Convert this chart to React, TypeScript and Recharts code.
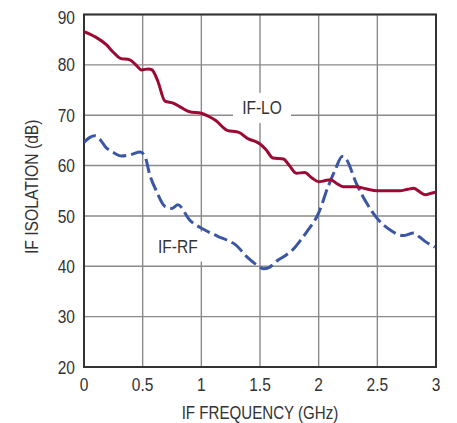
import React from "react";
import { LineChart, Line, XAxis, YAxis, CartesianGrid, ReferenceArea, ReferenceDot } from "recharts";

const xTicks = [0, 0.5, 1, 1.5, 2, 2.5, 3];
const yTicks = [20, 30, 40, 50, 60, 70, 80, 90];
const xTitle = "IF FREQUENCY (GHz)";
const yTitle = "IF ISOLATION (dB)";

const loFreq = [0, 0.1, 0.19, 0.25, 0.31, 0.39, 0.45, 0.49, 0.55, 0.58, 0.63, 0.69, 0.76, 0.83, 0.9, 1.0, 1.06, 1.12, 1.22, 1.32, 1.4, 1.46, 1.5, 1.55, 1.61, 1.7, 1.75, 1.81, 1.88, 1.94, 2.0, 2.05, 2.1, 2.15, 2.21, 2.32, 2.4, 2.5, 2.6, 2.69, 2.76, 2.81, 2.86, 2.91, 2.96, 3.0];
const loVals = [86.6, 85.5, 84.0, 82.5, 81.3, 81.0, 79.8, 79.0, 79.2, 79.0, 76.7, 72.8, 72.4, 71.5, 70.7, 70.4, 69.8, 69.0, 67.0, 66.6, 65.3, 64.8, 64.3, 63.2, 61.5, 61.3, 60.0, 58.5, 58.6, 57.6, 56.8, 57.0, 57.2, 56.5, 55.8, 55.8, 55.4, 55.0, 55.0, 55.0, 55.3, 55.5, 54.8, 54.2, 54.5, 54.7];

const rfFreq = [0, 0.05, 0.094, 0.14, 0.18, 0.25, 0.32, 0.4, 0.48, 0.52, 0.56, 0.62, 0.69, 0.75, 0.8, 0.9, 1.03, 1.145, 1.22, 1.29, 1.4, 1.49, 1.53, 1.58, 1.64, 1.72, 1.78, 1.85, 1.9, 2.0, 2.08, 2.14, 2.2, 2.22, 2.24, 2.32, 2.41, 2.51, 2.61, 2.72, 2.81, 2.86, 2.91, 2.99];
const rfVals = [64.6, 65.6, 65.9, 65.1, 63.8, 62.6, 61.9, 62.2, 62.7, 61.8, 58.2, 54.8, 51.9, 51.5, 52.2, 49.2, 47.2, 45.9, 45.2, 44.3, 41.6, 40.0, 39.5, 39.8, 41.0, 42.2, 43.3, 45.3, 46.9, 50.6, 55.8, 59.1, 61.8, 61.7, 61.1, 56.5, 52.5, 49.2, 47.2, 46.1, 46.6, 45.8, 44.9, 43.8];

const loData = loFreq.map((f, i) => ({ f, v: loVals[i] }));
const rfData = rfFreq.map((f, i) => ({ f, v: rfVals[i] }));

const labelLO = { text: "IF-LO", f: 1.517, v: 71.45, w: 58, h: 30 };
const labelRF = { text: "IF-RF", f: 0.8, v: 43.9, w: 50, h: 30 };

const FONT = "'Liberation Sans', Arial, sans-serif";
const TEXT = "#333";
const FS = 18.5;
const SX = 0.84;

const XTick = (props: any) => {
  const { x, y, payload } = props;
  return (
    <g transform={`translate(${x},${y})`}>
      <text transform={`scale(${SX},1)`} textAnchor="middle" dy="0.71em" fontSize={FS} fontFamily={FONT} fill={TEXT}>
        {payload.value}
      </text>
    </g>
  );
};

const YTick = (props: any) => {
  const { x, y, payload } = props;
  return (
    <g transform={`translate(${x},${y})`}>
      <text transform={`scale(${SX},1)`} textAnchor="end" dy="0.355em" fontSize={FS} fontFamily={FONT} fill={TEXT}>
        {payload.value}
      </text>
    </g>
  );
};

const XTitle = (props: any) => {
  const vb = props.viewBox || {};
  const cx = vb.x + vb.width / 2;
  return (
    <g transform={`translate(${cx},${vb.y + 52})`}>
      <text transform={`scale(${SX},1)`} textAnchor="middle" fontSize={18} fontFamily={FONT} fill={TEXT}>
        {xTitle}
      </text>
    </g>
  );
};

const YTitle = (props: any) => {
  const vb = props.viewBox || {};
  const cy = vb.y + vb.height / 2 - 4;
  return (
    <g transform={`translate(${vb.x + 29.5},${cy}) rotate(-90)`}>
      <text transform={`scale(0.87,1)`} textAnchor="middle" fontSize={18} fontFamily={FONT} fill={TEXT}>
        {yTitle}
      </text>
    </g>
  );
};

const makeLabel = (lab: { text: string; w: number; h: number }) => (props: any) => {
  const { cx, cy } = props;
  return (
    <g>
      <rect x={cx - lab.w / 2} y={cy - lab.h / 2} width={lab.w} height={lab.h} fill="#fff" />
      <g transform={`translate(${cx},${cy + 6.5})`}>
        <text transform={`scale(${SX},1)`} textAnchor="middle" fontSize={FS} fontFamily={FONT} fill={TEXT}>
          {lab.text}
        </text>
      </g>
    </g>
  );
};

export default function App() {
  return (
    <div style={{ width: 441, height: 415, background: "#fff" }}>
      <LineChart width={441} height={415} margin={{ top: 6.5, right: 13, bottom: 6, left: 0 }}>
        <CartesianGrid stroke="#8a8a8a" strokeWidth={1.4} horizontalValues={yTicks} verticalValues={xTicks} />
        <XAxis
          type="number"
          dataKey="f"
          domain={[0, 3]}
          ticks={xTicks}
          allowDataOverflow
          height={50}
          tickLine={false}
          axisLine={false}
          tickMargin={5}
          tick={<XTick />}
          label={<XTitle />}
        />
        <YAxis
          type="number"
          dataKey="v"
          domain={[20, 90]}
          ticks={yTicks}
          allowDataOverflow
          width={76}
          tickLine={false}
          axisLine={false}
          tickMargin={3}
          tick={<YTick />}
          label={<YTitle />}
        />
        <ReferenceDot x={labelLO.f} y={labelLO.v} r={0} shape={makeLabel(labelLO)} />
        <ReferenceDot x={labelRF.f} y={labelRF.v} r={0} shape={makeLabel(labelRF)} />
        <ReferenceArea x1={0} x2={3} y1={20} y2={90} fill="none" stroke="#333" strokeWidth={2} />
        <Line data={rfData} dataKey="v" type="monotone" stroke="#3a56a5" strokeWidth={3} strokeDasharray="14 5" dot={false} isAnimationActive={false} />
        <Line data={loData} dataKey="v" type="monotone" stroke="#9c0a34" strokeWidth={3} dot={false} isAnimationActive={false} />
      </LineChart>
    </div>
  );
}
